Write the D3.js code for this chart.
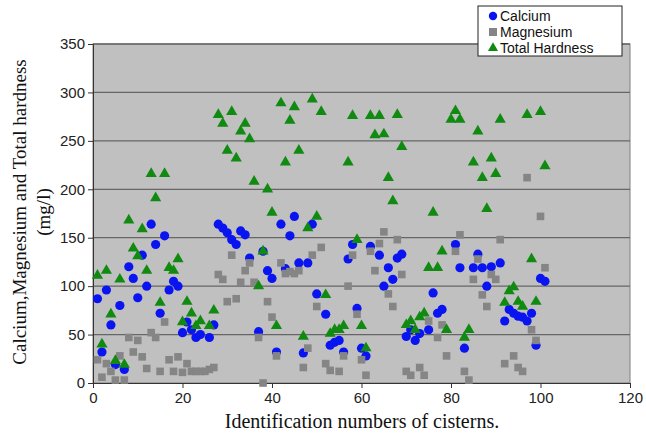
<!DOCTYPE html>
<html><head><meta charset="utf-8">
<script src="https://cdn.jsdelivr.net/npm/d3@7/dist/d3.min.js"></script>
<style>body{margin:0;background:#fff}svg{display:block}</style>
</head><body><svg id="c" width="646" height="433"></svg>
<script>
const ids = [1,2,3,4,5,6,7,8,9,10,11,12,13,14,15,16,17,18,19,20,21,22,23,24,25,26,27,28,29,30,31,32,33,34,35,36,37,38,39,40,41,42,43,44,45,46,47,48,49,50,51,52,53,54,55,56,57,58,59,60,61,62,63,64,65,66,67,68,69,70,71,72,73,74,75,76,77,78,79,80,81,82,83,84,85,86,87,88,89,90,91,92,93,94,95,96,97,98,99,100,101];
const calcium = [87,32,96,60,19,80,14,120,108,88,132,100,164,143,72,152,96,105,100,52,63,55,47,50,null,47,60,164,160,155,148,143,157,153,129,null,53,136,116,108,32,164,118,152,172,124,31,124,164,92,null,71,39,42,44,32,128,143,77,36,28,141,null,132,100,119,107,129,133,48,55,44,51,null,55,93,72,76,null,null,143,119,36,null,119,133,119,100,120,null,124,64,76,72,69,68,64,72,39,108,105];
const magnesium = [24,6,20,12,3,28,3,47,32,44,27,15,52,47,12,63,24,12,27,11,20,12,12,12,12,14,16,112,107,84,132,87,104,116,124,104,47,0,84,68,28,124,113,115,113,116,16,36,132,79,140,20,13,null,12,28,100,132,71,24,8,136,116,144,156,92,79,148,112,12,8,null,16,8,64,null,47,60,28,null,136,153,12,3,107,128,91,79,112,107,148,20,null,28,16,12,212,55,44,172,119];
const hardness = [111,40,116,71,23,107,19,168,139,131,159,116,216,191,83,216,119,116,128,63,84,72,59,64,null,59,75,277,268,240,280,232,260,268,252,208,100,136,200,176,59,289,228,271,285,240,48,160,293,172,280,91,51,55,55,59,228,276,148,59,36,276,256,276,257,212,188,277,244,60,64,55,68,72,119,176,119,136,55,272,281,272,47,55,228,260,212,180,232,216,272,83,95,99,84,79,277,128,84,280,224];
const xTicks = [0,20,40,60,80,100,120];
const yTicks = [0,50,100,150,200,250,300,350];
const seriesNames = ["Calcium","Magnesium","Total Hardness"];

const svg = d3.select("#c");
const L = 93, R = 630, T = 44, B = 383;
const x = d3.scaleLinear().domain([0,120]).range([L,R]);
const y = d3.scaleLinear().domain([0,350]).range([B,T]);

svg.append("rect").attr("x",L).attr("y",T).attr("width",R-L).attr("height",B-T)
  .attr("fill","#c0c0c0").attr("stroke","#808080").attr("stroke-width",1);

svg.append("g").selectAll("line").data(yTicks.filter(d=>d>0)).join("line")
  .attr("x1",L).attr("x2",R).attr("y1",d=>y(d)).attr("y2",d=>y(d))
  .attr("stroke","#666").attr("stroke-width",1.3);

const font = "'Liberation Sans', Arial, sans-serif";
const yAxis = svg.append("g").attr("transform",`translate(${L},0)`)
  .call(d3.axisLeft(y).tickValues(yTicks).tickSize(5).tickPadding(3));
const xAxis = svg.append("g").attr("transform",`translate(0,${B})`)
  .call(d3.axisBottom(x).tickValues(xTicks).tickSize(5).tickPadding(4));
[xAxis,yAxis].forEach(a=>{
  a.select(".domain").attr("stroke","#333");
  a.selectAll(".tick line").attr("stroke","#333");
  a.selectAll("text").attr("font-family",font).attr("font-size",15).attr("fill","#222");
});

const pts = s => ids.map((id,i)=>({id, v:s[i]})).filter(d=>d.v!==null);

svg.append("g").selectAll("circle").data(pts(calcium)).join("circle")
  .attr("cx",d=>x(d.id)).attr("cy",d=>y(d.v)).attr("r",4.6).attr("fill","#0a14f0");

svg.append("g").selectAll("rect").data(pts(magnesium)).join("rect")
  .attr("x",d=>x(d.id)-3.8).attr("y",d=>y(d.v)-3.8).attr("width",7.6).attr("height",7.6).attr("fill","#858585");

const tri = d3.symbol().type(d3.symbolTriangle).size(54);
svg.append("g").selectAll("path").data(pts(hardness)).join("path")
  .attr("transform",d=>`translate(${x(d.id)},${y(d.v)})`).attr("d",tri).attr("fill","#108a10");

// axis titles
svg.append("text").attr("x",362).attr("y",428).attr("text-anchor","middle")
  .attr("font-family","'Liberation Serif','Times New Roman',serif").attr("font-size",20).attr("fill","#111")
  .text("Identification numbers of cisterns.");
const yt = svg.append("text").attr("transform","translate(26,212) rotate(-90)").attr("text-anchor","middle")
  .attr("font-family","'Liberation Serif','Times New Roman',serif").attr("font-size",19).attr("fill","#111");
yt.append("tspan").attr("x",0).attr("y",0).text("Calcium,Magnesium and Total hardness");
yt.append("tspan").attr("x",0).attr("y",24).text("(mg/l)");

// legend
const lg = svg.append("g");
lg.append("rect").attr("x",478).attr("y",6).attr("width",144).attr("height",50)
  .attr("fill","#fff").attr("stroke","#222").attr("stroke-width",1);
const ly = [16,32,48];
lg.append("circle").attr("cx",493).attr("cy",ly[0]).attr("r",4.2).attr("fill","#0a14f0");
lg.append("rect").attr("x",489).attr("y",ly[1]-4).attr("width",8).attr("height",8).attr("fill","#858585");
lg.append("path").attr("transform",`translate(493,${ly[2]})`).attr("d",d3.symbol().type(d3.symbolTriangle).size(44)).attr("fill","#108a10");
lg.selectAll("text.l").data(seriesNames).join("text").attr("class","l")
  .attr("x",500).attr("y",(d,i)=>ly[i]+5).attr("font-family",font).attr("font-size",14).attr("fill","#111")
  .text(d=>d);
</script></body></html>
